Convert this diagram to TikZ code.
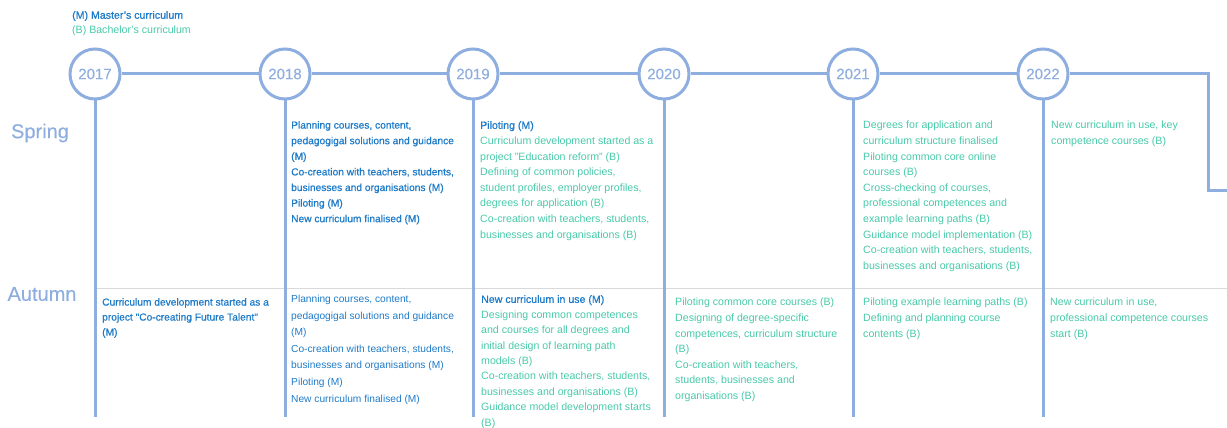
\documentclass[tikz,border=0pt]{standalone}
\usepackage{fontspec}
\setmainfont{Liberation Sans}
\newfontfamily\medfont[FakeBold=0.8]{Liberation Sans}
\newfontfamily\softfont[FakeBold=0.3]{Liberation Sans}
\usepackage{xcolor}

\newcommand{\mline}[1]{{\color{mblue}\medfont #1}}

\begin{document}
\begin{tikzpicture}[x=1pt,y=-1pt,
  yearnode/.style={circle,draw=lineblue,line width=3pt,minimum size=50pt,inner sep=0pt,text=lineblue,font=\softfont\fontsize{15}{18}\selectfont},
  season/.style={text=lineblue,font=\softfont\fontsize{20}{24}\selectfont},
  entry/.style={anchor=north west,inner sep=0pt,align=left,text=bteal,font=\fontsize{10.6}{15.6}\selectfont}]
\definecolor{lineblue}{HTML}{8FAEE0}
\definecolor{mblue}{HTML}{1E7BC8}
\definecolor{bteal}{HTML}{47C9A8}
\definecolor{rulegrey}{HTML}{D9D9D9}
\useasboundingbox (0,0) rectangle (1227,428);
% legend
\node[entry,anchor=west] (legm) at (72,16) {\mline{(M) Master’s curriculum}};
\node[entry,anchor=west] (legb) at (72,31) {(B) Bachelor’s curriculum};
% seasons
\node[season] (spring) at (40,133) {Spring};
\node[season] (autumn) at (42,294) {Autumn};
% divider between spring and autumn
\coordinate (divl) at (95,288);
\coordinate (divr) at (1227,288);
\draw[rulegrey,line width=1pt] (divl) -- (divr);
% years
\coordinate (bot) at (0,417);
\foreach \yr/\xx in {2017/95,2018/285,2019/473,2020/664,2021/853,2022/1043}
{ \node[yearnode] (y\yr) at (\xx,74) {\yr};
  \draw[lineblue,line width=3pt] (y\yr.south) -- (y\yr |- bot);}
\coordinate (bend) at (1208,74);
\coordinate (tail) at (1227,190);
\draw[lineblue,line width=3pt] (y2017) -- (y2018) -- (y2019) -- (y2020) -- (y2021) -- (y2022) -- (bend) |- (tail);
% spring
\node[entry,text=mblue,font=\medfont\fontsize{10.2}{15.6}\selectfont] (s2018) at (291,121)
{Planning courses, content,\\pedagogigal solutions and guidance\\(M)\\Co-creation with teachers, students,\\businesses and organisations (M)\\Piloting (M)\\New curriculum finalised (M)};
\node[entry] (s2019) at (480,121)
{\mline{Piloting (M)}\\Curriculum development started as a\\project "Education reform" (B)\\Defining of common policies,\\student profiles, employer profiles,\\degrees for application (B)\\Co-creation with teachers, students,\\businesses and organisations (B)};
\node[entry] (s2021) at (863,121)
{Degrees for application and\\curriculum structure finalised\\Piloting common core online\\courses (B)\\Cross-checking of courses,\\professional competences and\\example learning paths (B)\\Guidance model implementation (B)\\Co-creation with teachers, students,\\businesses and organisations (B)};
\node[entry] (s2022) at (1051,121)
{New curriculum in use, key\\competence courses (B)};
% autumn
\node[entry,text=mblue,font=\medfont\fontsize{10.2}{15}\selectfont] (a2017) at (102,298)
{Curriculum development started as a\\project "Co-creating Future Talent"\\(M)};
\node[entry,text=mblue,font=\fontsize{10.2}{16.6}\selectfont] (a2018) at (291,295)
{Planning courses, content,\\pedagogigal solutions and guidance\\(M)\\Co-creation with teachers, students,\\businesses and organisations (M)\\Piloting (M)\\New curriculum finalised (M)};
\node[entry,font=\fontsize{10.6}{15.4}\selectfont] (a2019) at (481,295)
{\mline{New curriculum in use (M)}\\Designing common competences\\and courses for all degrees and\\initial design of learning path\\models (B)\\Co-creation with teachers, students,\\businesses and organisations (B)\\Guidance model development starts\\(B)};
\node[entry] (a2020) at (675,298)
{Piloting common core courses (B)\\Designing of degree-specific\\competences, curriculum structure\\(B)\\Co-creation with teachers,\\students, businesses and\\organisations (B)};
\node[entry] (a2021) at (863,298)
{Piloting example learning paths (B)\\Defining and planning course\\contents (B)};
\node[entry] (a2022) at (1050,298)
{New curriculum in use,\\professional competence courses\\start (B)};
\end{tikzpicture}
\end{document}
